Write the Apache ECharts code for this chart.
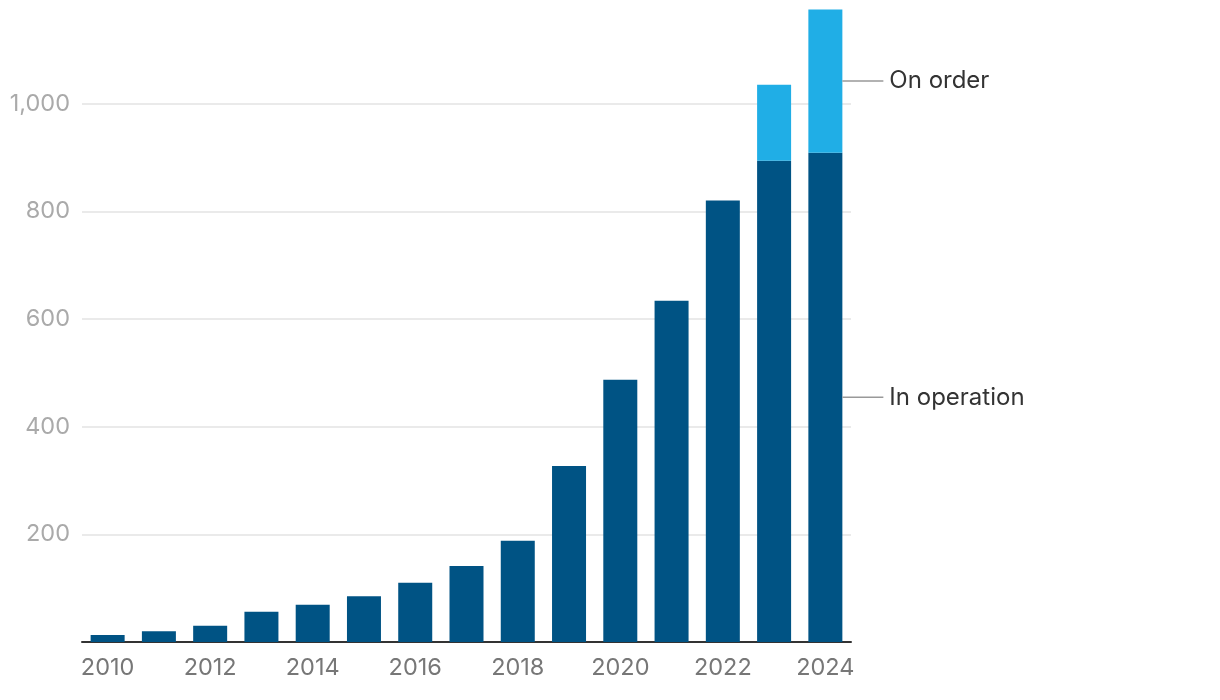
<!DOCTYPE html>
<html><head><meta charset="utf-8">
<script src="https://cdn.jsdelivr.net/npm/echarts@6/dist/echarts.min.js"></script>
<style>html,body{margin:0;padding:0;background:#fff}#c{width:1220px;height:700px}</style>
</head><body><div id="c"></div>
<script>
const years = ['2010','2011','2012','2013','2014','2015','2016','2017','2018','2019','2020','2021','2022','2023','2024'];
const inOperation = [13,20,30,56,69,85,110,141,188,327,487,634,820,894,909];
const onOrder = [null,null,null,null,null,null,null,null,null,null,null,null,null,141,266];
const yTicks = [200,400,600,800,1000];
const seriesNames = ['In operation','On order'];

const chart = echarts.init(document.getElementById('c'));
const font = 'Inter, "Noto Sans", sans-serif';
function endLabel(name){
  return {
    show: true,
    position: 'right',
    distance: 0,
    formatter: function(p){ return p.dataIndex === years.length-1 ? '{l|}{t|' + name + '}' : ''; },
    rich: {
      l: {width: 41, height: 1.5, backgroundColor: '#999'},
      t: {fontSize: 24, color: '#333', fontFamily: font, padding: [0,0,0,6]}
    }
  };
}
chart.setOption({
  animation: false,
  grid: {left: 82, right: 369, top: -4, bottom: 58, outerBoundsMode: 'none', containLabel: false},
  xAxis: {
    type: 'category', data: years,
    axisLine: {lineStyle: {color: '#333', width: 2}},
    axisTick: {show: false},
    axisLabel: {interval: 1, color: '#777', fontSize: 23.5, fontFamily: font, margin: 14}
  },
  yAxis: {
    type: 'value', min: 0, max: 1200, interval: 200,
    axisLine: {show: false}, axisTick: {show: false},
    splitLine: {lineStyle: {color: '#e3e3e3', width: 1.5}},
    axisLabel: {
      color: '#aaa', fontSize: 23.5, fontFamily: font, margin: 12,
      formatter: function(v){ return yTicks.indexOf(v) >= 0 ? v.toLocaleString('en-US') : ''; }
    }
  },
  series: [
    {name: seriesNames[0], type: 'bar', stack: 's', data: inOperation, barWidth: 34,
     itemStyle: {color: '#005384'}, label: endLabel(seriesNames[0])},
    {name: seriesNames[1], type: 'bar', stack: 's', data: onOrder, barWidth: 34,
     itemStyle: {color: '#20aee6'}, label: endLabel(seriesNames[1])}
  ]
});
</script></body></html>
